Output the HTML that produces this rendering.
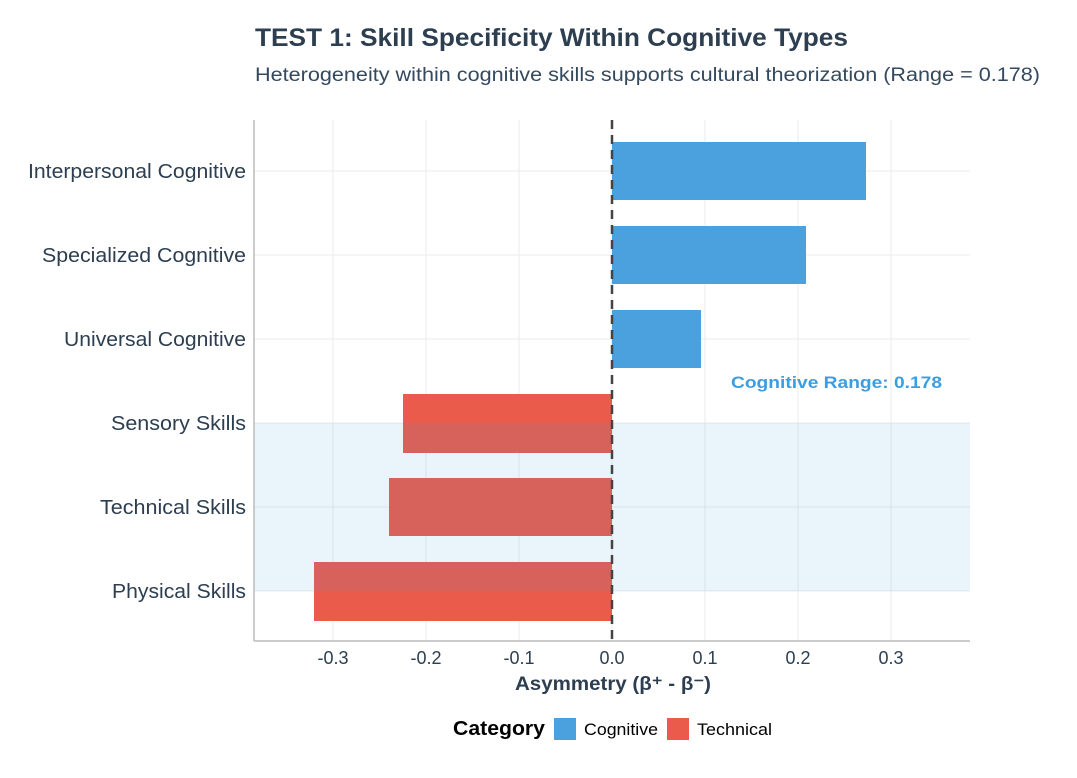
<!DOCTYPE html>
<html><head><meta charset="utf-8"><style>
body{margin:0;background:#fff;font-family:"Liberation Sans",Arial,sans-serif}
</style></head><body>
<svg width="1077" height="773" viewBox="0 0 1077 773" xmlns="http://www.w3.org/2000/svg" font-family="Liberation Sans, Arial, sans-serif">
<rect width="1077" height="773" fill="#fff"/>
<text x="255" y="46" font-size="25" font-weight="bold" fill="#2c3e50" textLength="593" lengthAdjust="spacingAndGlyphs">TEST 1: Skill Specificity Within Cognitive Types</text>
<text x="255" y="81" font-size="19" fill="#34495e" textLength="785" lengthAdjust="spacingAndGlyphs">Heterogeneity within cognitive skills supports cultural theorization (Range = 0.178)</text>
<g stroke="#ebebeb" stroke-width="1">
<line x1="333" y1="120" x2="333" y2="641"/><line x1="426" y1="120" x2="426" y2="641"/><line x1="519" y1="120" x2="519" y2="641"/><line x1="612" y1="120" x2="612" y2="641"/><line x1="705" y1="120" x2="705" y2="641"/><line x1="798" y1="120" x2="798" y2="641"/><line x1="891" y1="120" x2="891" y2="641"/>
<line x1="254" y1="171" x2="970" y2="171"/><line x1="254" y1="255" x2="970" y2="255"/><line x1="254" y1="339" x2="970" y2="339"/><line x1="254" y1="423" x2="970" y2="423"/><line x1="254" y1="507" x2="970" y2="507"/><line x1="254" y1="591" x2="970" y2="591"/>
</g>
<g fill="#4aa1dd">
<rect x="612" y="142" width="254" height="58"/>
<rect x="612" y="226" width="194" height="58"/>
<rect x="612" y="310" width="89" height="58"/>
</g>
<g fill="#eb5b4c">
<rect x="403" y="394" width="209" height="59"/>
<rect x="389" y="478" width="223" height="58"/>
<rect x="314" y="562" width="298" height="59"/>
</g>
<rect x="254" y="423" width="716" height="168" fill="rgb(52,152,219)" fill-opacity="0.11"/>
<line x1="612" y1="120" x2="612" y2="641" stroke="#444" stroke-width="2.5" stroke-dasharray="9,6"/>
<line x1="254" y1="120" x2="254" y2="641" stroke="#bbb" stroke-width="1.5"/>
<line x1="254" y1="641" x2="970" y2="641" stroke="#bbb" stroke-width="1.5"/>
<text x="731" y="388" font-size="17" font-weight="bold" fill="#3c9ee0" textLength="211" lengthAdjust="spacingAndGlyphs">Cognitive Range: 0.178</text>
<g font-size="20" fill="#2c3e50" text-anchor="end">
<text x="246" y="178" textLength="218" lengthAdjust="spacingAndGlyphs">Interpersonal Cognitive</text>
<text x="246" y="262" textLength="204" lengthAdjust="spacingAndGlyphs">Specialized Cognitive</text>
<text x="246" y="346" textLength="182" lengthAdjust="spacingAndGlyphs">Universal Cognitive</text>
<text x="246" y="430" textLength="135" lengthAdjust="spacingAndGlyphs">Sensory Skills</text>
<text x="246" y="514" textLength="146" lengthAdjust="spacingAndGlyphs">Technical Skills</text>
<text x="246" y="598" textLength="134" lengthAdjust="spacingAndGlyphs">Physical Skills</text>
</g>
<g font-size="18" fill="#2c3e50" text-anchor="middle">
<text x="333" y="664">-0.3</text><text x="426" y="664">-0.2</text><text x="519" y="664">-0.1</text><text x="612" y="664">0.0</text><text x="705" y="664">0.1</text><text x="798" y="664">0.2</text><text x="891" y="664">0.3</text>
</g>
<text x="515" y="690" font-size="19" font-weight="bold" fill="#2c3e50" textLength="196" lengthAdjust="spacingAndGlyphs">Asymmetry (β⁺ - β⁻)</text>
<text x="453" y="735" font-size="20" font-weight="bold" fill="#000" textLength="92" lengthAdjust="spacingAndGlyphs">Category</text>
<rect x="554" y="718" width="22" height="22" fill="#4aa1dd"/>
<text x="584" y="735" font-size="17" fill="#000" textLength="74" lengthAdjust="spacingAndGlyphs">Cognitive</text>
<rect x="667" y="718" width="22" height="22" fill="#eb5b4c"/>
<text x="697" y="735" font-size="17" fill="#000" textLength="75" lengthAdjust="spacingAndGlyphs">Technical</text>
</svg>
</body></html>
